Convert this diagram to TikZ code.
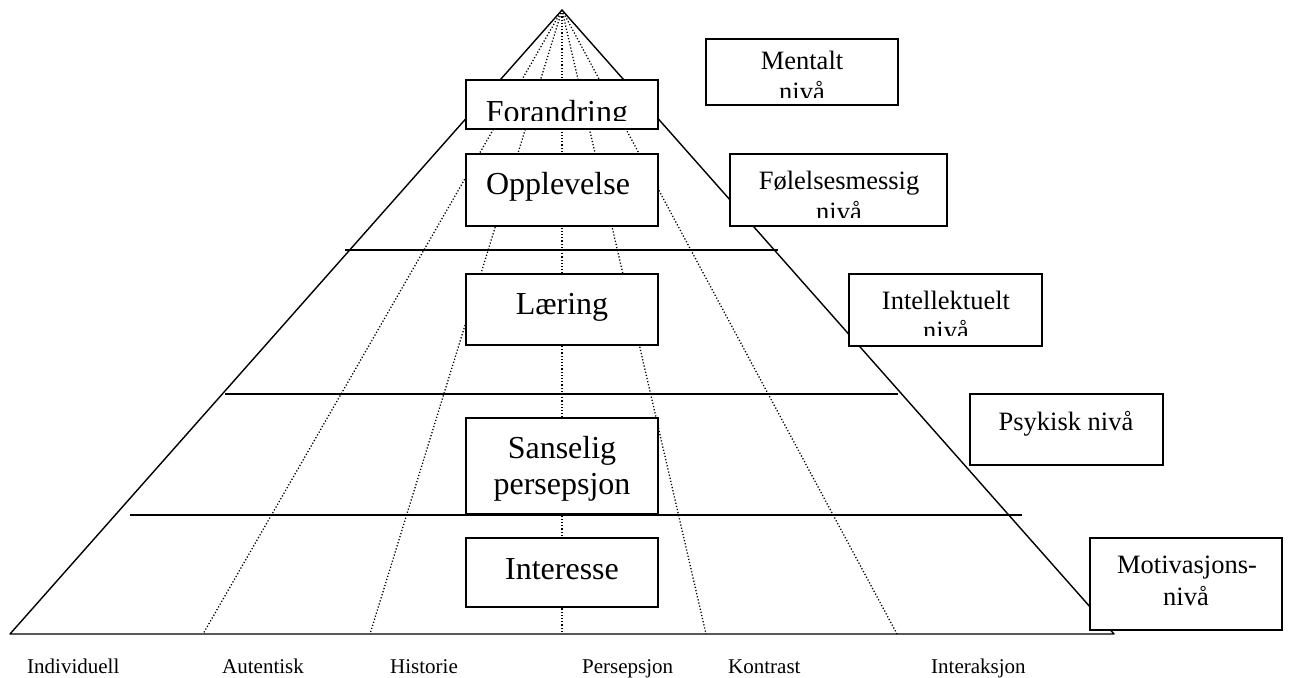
\documentclass[tikz,border=0pt]{standalone}
\usepackage{fontspec}
\setmainfont{Liberation Serif}
\begin{document}
\begin{tikzpicture}[x=1pt,y=-1pt,
  edge/.style={line width=1.4pt, line join=round},
  ray/.style={line width=1.3pt, dash pattern=on 1.2pt off 2pt},
  box/.style={draw, fill=white, line width=1.7pt, inner sep=0pt},
  big/.style={font=\fontsize{32}{37}\selectfont, inner sep=0pt, anchor=base},
  mid/.style={font=\fontsize{26.5}{30}\selectfont, inner sep=0pt, anchor=base},
  foot/.style={font=\fontsize{21}{25}\selectfont, inner sep=0pt, anchor=base west}]
\useasboundingbox (0,0) rectangle (1289,677);

% pyramid corners and the foot points of the rays
\coordinate (apex) at (562,10);
\coordinate (bl) at (10,634);
\coordinate (br) at (1114,634);
\coordinate (b1) at (203,634);
\coordinate (b2) at (370,634);
\coordinate (b3) at (562,634);
\coordinate (b4) at (706,634);
\coordinate (b5) at (897,634);

% level dividers
\coordinate (h1l) at (345,250);  \coordinate (h1r) at (778,250);
\coordinate (h2l) at (225,394);  \coordinate (h2r) at (898,394);
\coordinate (h3l) at (130,515);  \coordinate (h3r) at (1022,515);

\draw[edge] (bl) -- (apex) -- (br) -- cycle;
\draw[edge] (h1l) -- (h1r);
\draw[edge] (h2l) -- (h2r);
\draw[edge] (h3l) -- (h3r);
\foreach \b in {b1,b2,b3,b4,b5} \draw[ray] (apex) -- (\b);

% boxes inside the pyramid
\node[box, minimum width=192, minimum height=49] (forandring) at (562,104.5) {};
\node[box, minimum width=192, minimum height=72] (opplevelse) at (562,190) {};
\node[box, minimum width=192, minimum height=71] (laering) at (562,309.5) {};
\node[box, minimum width=192, minimum height=96] (sanselig) at (562,466) {};
\node[box, minimum width=192, minimum height=69] (interesse) at (562,572.5) {};

% level boxes on the right
\node[box, minimum width=192, minimum height=66] (mentalt) at (802,72) {};
\node[box, minimum width=217, minimum height=72] (folelse) at (838.5,190) {};
\node[box, minimum width=193, minimum height=72] (intellekt) at (945.5,310) {};
\node[box, minimum width=193, minimum height=71] (psykisk) at (1066.5,429.5) {};
\node[box, minimum width=192, minimum height=92] (motiv) at (1186,584) {};

% texts (clipped where the box is too small)
\begin{scope}
  \clip (466,80) rectangle (658,120);
  \node[big] (forandring-t) at (557,122) {Forandring};
\end{scope}
\node[big] (opplevelse-t) at (558,194) {Opplevelse};
\node[big] (laering-t) at (562,314) {Læring};
\node[big] (sanselig-t1) at (562,458) {Sanselig};
\node[big] (sanselig-t2) at (562,494) {persepsjon};
\node[big] (interesse-t) at (562,579) {Interesse};

\begin{scope}
  \clip (706,39) rectangle (898,97);
  \node[mid] (mentalt-t1) at (802,70) {Mentalt};
  \node[mid] (mentalt-t2) at (802,100) {nivå};
\end{scope}
\begin{scope}
  \clip (730,154) rectangle (947,217);
  \node[mid] (folelse-t1) at (839,189) {Følelsesmessig};
  \node[mid] (folelse-t2) at (839,220) {nivå};
\end{scope}
\begin{scope}
  \clip (849,274) rectangle (1042,335);
  \node[mid] (intellekt-t1) at (946,309) {Intellektuelt};
  \node[mid] (intellekt-t2) at (946,339) {nivå};
\end{scope}
\node[mid] (psykisk-t) at (1066,430) {Psykisk nivå};
\node[mid] (motiv-t1) at (1187,573) {Motivasjons-};
\node[mid] (motiv-t2) at (1186,605) {nivå};

% labels under the base
\node[foot] (l1) at (27,673) {Individuell};
\node[foot] (l2) at (222,673) {Autentisk};
\node[foot] (l3) at (390,673) {Historie};
\node[foot] (l4) at (582,673) {Persepsjon};
\node[foot] (l5) at (728,673) {Kontrast};
\node[foot] (l6) at (931,673) {Interaksjon};
\end{tikzpicture}
\end{document}
